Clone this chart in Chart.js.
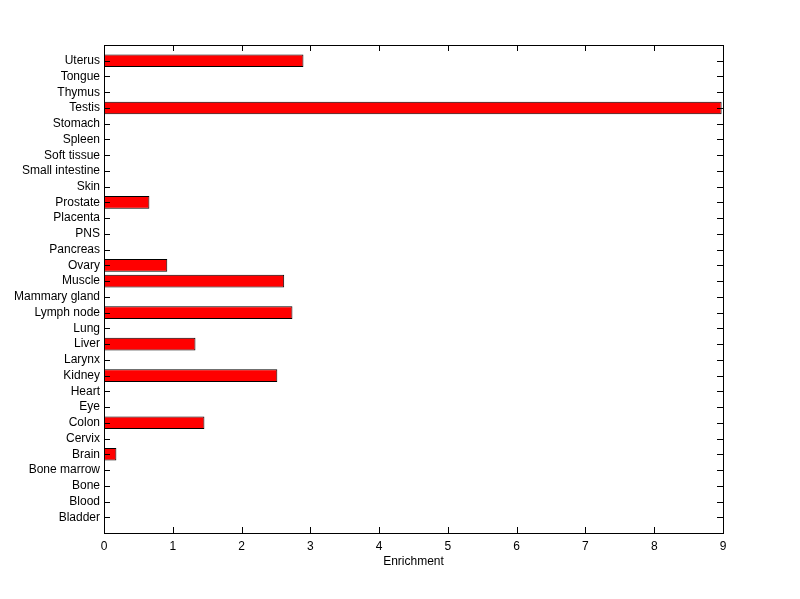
<!DOCTYPE html>
<html>
<head>
<meta charset="utf-8">
<script src="https://cdn.jsdelivr.net/npm/chart.js@4/dist/chart.umd.min.js"></script>
<style>
  html, body { margin: 0; padding: 0; background: #fff; }
  #wrap { width: 800px; height: 599px; }
</style>
</head>
<body>
<div id="wrap"><canvas id="myChart" width="800" height="599"></canvas></div>
<script>
// tissues, bottom to top (as plotted)
var tissues = ['Bladder', 'Blood', 'Bone', 'Bone marrow', 'Brain', 'Cervix', 'Colon', 'Eye', 'Heart',
  'Kidney', 'Larynx', 'Liver', 'Lung', 'Lymph node', 'Mammary gland', 'Muscle', 'Ovary', 'Pancreas',
  'PNS', 'Placenta', 'Prostate', 'Skin', 'Small intestine', 'Soft tissue', 'Spleen', 'Stomach',
  'Testis', 'Thymus', 'Tongue', 'Uterus'];
var enrichment = [0, 0, 0, 0, 0.18, 0, 1.46, 0, 0,
  2.52, 0, 1.33, 0, 2.74, 0, 2.62, 0.92, 0,
  0, 0, 0.66, 0, 0, 0, 0, 0,
  8.98, 0, 0, 2.90];
var xTicks = [0, 1, 2, 3, 4, 5, 6, 7, 8, 9];

var font = { family: "'Liberation Sans', Arial, sans-serif", size: 12 };

// matlab style box + inward ticks
var boxTicks = {
  id: 'boxTicks',
  afterDraw: function(chart) {
    var c = chart.ctx, a = chart.chartArea;
    var xs = chart.scales.x, ys = chart.scales.y;
    c.save();
    c.strokeStyle = '#000';
    c.lineWidth = 1;
    c.beginPath();
    xTicks.forEach(function(v) {
      var px = Math.round(xs.getPixelForValue(v)) + 0.5;
      c.moveTo(px, a.bottom); c.lineTo(px, a.bottom - 6);
      c.moveTo(px, a.top); c.lineTo(px, a.top + 6);
    });
    tissues.forEach(function(t, i) {
      var py = Math.round(ys.getPixelForValue(i + 1)) + 0.5;
      c.moveTo(a.left, py); c.lineTo(a.left + 6, py);
      c.moveTo(a.right, py); c.lineTo(a.right - 6, py);
    });
    c.stroke();
    c.strokeRect(Math.round(a.left) + 0.5, Math.round(a.top) + 0.5,
      Math.round(a.right - a.left), Math.round(a.bottom - a.top));
    c.restore();
  }
};

var ctx = document.getElementById('myChart').getContext('2d');
var myChart = new Chart(ctx, {
  type: 'bar',
  data: {
    datasets: [{
      data: tissues.map(function(t, i) { return { x: enrichment[i], y: i + 1 }; }),
      backgroundColor: '#ff0000',
      borderColor: '#000000',
      borderWidth: function(c) { return c.raw && c.raw.x > 0 ? 1 : 0; },
      borderSkipped: false,
      barPercentage: 0.8,
      categoryPercentage: 1
    }]
  },
  plugins: [boxTicks],
  options: {
    indexAxis: 'y',
    responsive: false,
    animation: false,
    layout: { padding: { top: 45, right: 77, left: 0, bottom: 30 } },
    plugins: { legend: { display: false }, tooltip: { enabled: false } },
    scales: {
      x: {
        type: 'linear',
        min: 0,
        max: 9,
        afterBuildTicks: function(s) { s.ticks = xTicks.map(function(v) { return { value: v }; }); },
        afterFit: function(s) { s.height = 36; },
        grid: { display: false, drawTicks: false },
        border: { display: false },
        ticks: { color: '#000', font: font, padding: 6, maxRotation: 0 },
        title: { display: true, text: 'Enrichment', color: '#000', font: font, padding: { top: 2, bottom: 0 } }
      },
      y: {
        type: 'linear',
        offset: false,
        min: 0,
        max: 31,
        afterBuildTicks: function(s) { s.ticks = tissues.map(function(t, i) { return { value: i + 1 }; }); },
        afterFit: function(s) { s.width = 104; },
        grid: { display: false, drawTicks: false, offset: false },
        border: { display: false },
        ticks: {
          color: '#000', font: font, padding: 4, autoSkip: false,
          callback: function(v) { return tissues[v - 1] || ''; }
        }
      }
    }
  }
});
</script>
</body>
</html>
